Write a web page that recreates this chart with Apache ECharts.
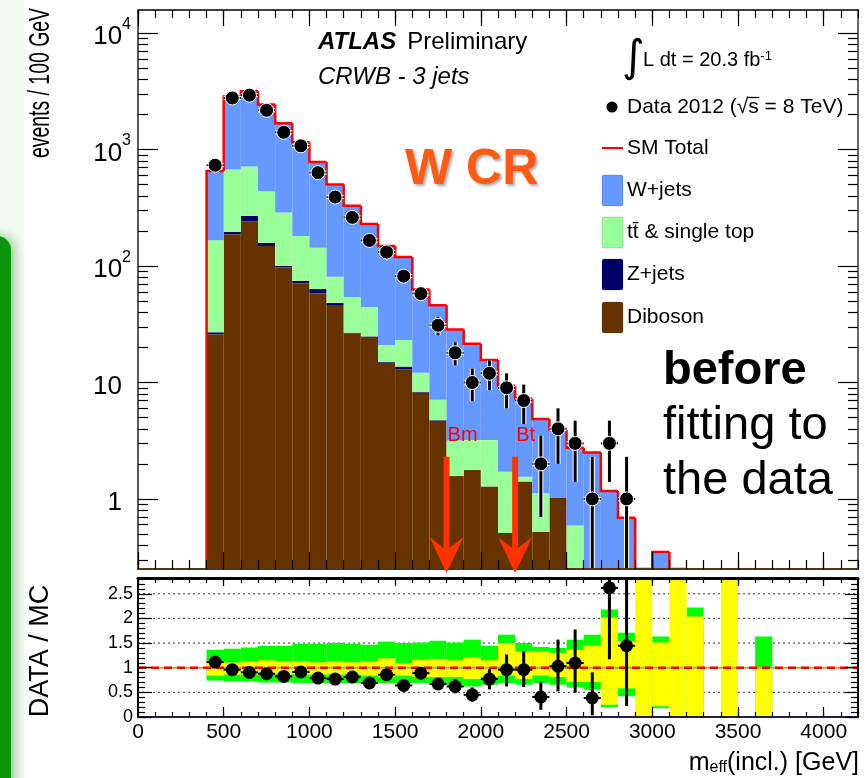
<!DOCTYPE html>
<html><head><meta charset="utf-8">
<script src="https://cdn.jsdelivr.net/npm/echarts@6/dist/echarts.min.js"></script>
<style>html,body{margin:0;padding:0;background:#fff}#c{width:868px;height:778px}</style>
</head><body><div id="c"></div>
<script>
// ---------------- data ----------------
// MC histogram bins (lower edge, GeV), width 100
const mcLow   = [400,500,600,700,800,900,1000,1100,1200,1300,1400,1500,1600,1700,1800,1900,2000,2100,2200,2300,2400,2500,2600,2700,2800,2900,3000,3100];
const diboson = [25.9,188,243,149,97.5,71,58.3,46.3,26.5,24.7,14.8,13,8.2,4.7,1.57,1.77,1.28,0.51,1.41,0.52,1.03,0.2,0,0,0,0,0,0];
const zjets   = [1.1,9,27,9.6,3.2,3.8,5.2,2.1,0.3,0.2,0.2,0.7,0.1,0.05,0,0,0,0,0,0,0,0,0,0,0,0,0,0];
const ttbar   = [140,479,447,281,188,107,80,32.6,27.1,19.6,6,9.5,3.8,2.35,1.6,1.43,1.92,1.2,0.14,0.6,0,0.39,0,0,0,0,0,0];
const wjets   = [488,2194,2463,2000,1401,978,641,422,276,185.5,128,96.8,50.9,38.9,25.3,18.3,12.4,7.69,5.75,3.73,2.87,2.16,2.5,1.17,0.69,0,0.35,0];
// Data (bin centres)
const dataX    = [450,550,650,750,850,950,1050,1150,1250,1350,1450,1550,1650,1750,1850,1950,2050,2150,2250,2350,2450,2550,2650,2750,2850];
const dataVals = [735,2780,2940,2180,1410,1079,635,392,262,166,132,82,58,31,18,10,12,9,7,2,4,3,1,3,1];
const dataUp   = [27,53,54,47,38,33,25,20,16,13,11.5,9,7.6,5.7,4.2,3.2,3.5,3,2.6,1.5,2,1.7,1.3,1.7,1.3];
const dataDn   = [27,53,54,47,38,33,25,20,16,13,11.5,9,7.6,5.5,4,3.1,3.4,3,2.6,1.3,2,1.6,1,1.6,1];
// Ratio panel
const ratioVals = [1.115,0.96,0.905,0.878,0.824,0.913,0.79,0.77,0.81,0.69,0.858,0.64,0.89,0.67,0.62,0.45,0.77,0.96,0.96,0.406,1.03,1.095,0.385,2.62,1.446];
const ratioUp   = [0.04,0.02,0.02,0.02,0.025,0.03,0.035,0.04,0.05,0.055,0.075,0.07,0.12,0.12,0.15,0.15,0.2,0.31,0.37,0.31,0.54,0.68,0.52,2.0,3.0];
const ratioDn   = [0.04,0.02,0.02,0.02,0.025,0.03,0.035,0.04,0.05,0.055,0.075,0.07,0.12,0.12,0.14,0.14,0.21,0.34,0.35,0.26,0.51,0.6,0.35,1.45,1.22];
const bandLow  = [400,500,600,700,800,900,1000,1100,1200,1300,1400,1500,1600,1700,1800,1900,2000,2100,2200,2300,2400,2500,2600,2700,2800,2900,3000,3100,3200,3300,3400,3500,3600];
const greenLo  = [0.74,0.72,0.72,0.70,0.70,0.69,0.69,0.69,0.69,0.69,0.69,0.68,0.69,0.69,0.655,0.62,0.655,0.69,0.655,0.69,0.655,0.60,0.553,0.20,0.42,null,0.18,null,0,null,null,null,0];
const greenHi  = [1.365,1.385,1.41,1.445,1.445,1.486,1.486,1.50,1.486,1.466,1.53,1.50,1.51,1.547,1.51,1.568,1.445,1.67,1.50,1.42,1.40,1.568,1.67,2.18,1.71,null,1.635,null,2.22,null,null,null,1.635];
const yellowLo = [0.84,0.86,0.86,0.86,0.865,0.86,0.86,0.86,0.865,0.84,0.81,0.84,0.81,0.81,0.81,0.77,0.81,0.84,0.77,0.84,0.81,0.71,0.71,0.25,0.58,0,0.216,0,0,null,0,null,0];
const yellowHi = [1.095,1.105,1.128,1.149,1.128,1.128,1.11,1.128,1.11,1.128,1.19,1.095,1.163,1.176,1.15,1.21,1.15,1.50,1.33,1.33,1.30,1.365,1.45,2.02,1.54,3,1.51,3,2.04,null,3,null,1.0];
// ticks
const xTicks     = [0,500,1000,1500,2000,2500,3000,3500,4000];
const logTicks   = [1,10,100,1000,10000];
const ratioTicks = [0,0.5,1,1.5,2,2.5];
const ratioGrid  = [0.5,1,1.5,2,2.5];
// annotations
const arrowX = [1800,2200], arrowLabels = ['Bm','Bt'], arrowTopVal = 2.3;

// ---------------- setup ----------------
const F = '"Liberation Sans", Arial, Helvetica, sans-serif';
const YMIN = 0.25, LOGMIN = Math.log10(YMIN), LOGMAX = 4.2, XMAX = 4200, RMAX = 2.82;
const chart = echarts.init(document.getElementById('c'));
const ylog = v => (v > 0 ? Math.log10(v) : LOGMIN - 2);
const ylogc = v => (v > YMIN ? Math.log10(v) : LOGMIN);

const xMinor = []; for (let v = 0; v <= XMAX; v += 100) xMinor.push(v);
const logMinor = []; for (let n = -1; n <= 4; n++) for (let k = 2; k <= 9; k++) { const l = Math.log10(k * Math.pow(10, n)); if (l >= LOGMIN && l <= LOGMAX) logMinor.push(l); }
const logMajor = logTicks.map(v => Math.log10(v));
const rMinor = []; for (let k = 0; k <= 28; k++) rMinor.push(+(k * 0.1).toFixed(1));

function xAx(grid, pos, ticks, len, line, label) {
  return { type: 'value', gridIndex: grid, position: pos, min: 0, max: XMAX, z: 10,
    splitLine: { show: false },
    axisLine: line ? { show: true, onZero: false, lineStyle: line } : { show: false, onZero: false },
    axisTick: { show: true, inside: true, length: len, customValues: ticks, lineStyle: { color: '#000', width: 1.2 } },
    axisLabel: label || { show: false } };
}
function yAx(grid, pos, min, max, ticks, len, line, label) {
  return { type: 'value', gridIndex: grid, position: pos, min, max, z: 10,
    splitLine: { show: false },
    axisLine: line ? { show: true, onZero: false, lineStyle: line } : { show: false, onZero: false },
    axisTick: { show: true, inside: true, length: len, customValues: ticks, lineStyle: { color: '#000', width: 1.2 } },
    axisLabel: label || { show: false } };
}

const xAxes = [
  xAx(0, 'bottom', xTicks, 17, { color: '#5a3410', width: 2 }),
  xAx(0, 'bottom', xMinor, 9),
  xAx(0, 'top', xTicks, 16, { color: '#000', width: 1.5 }),
  xAx(0, 'top', xMinor, 8),
  xAx(1, 'bottom', xTicks, 10, { color: '#20204a', width: 2 },
      { show: true, customValues: xTicks, margin: 5, fontSize: 21, fontFamily: F, color: '#000', formatter: v => String(v) }),
  xAx(1, 'bottom', xMinor, 5),
  xAx(1, 'top', xTicks, 8, { color: '#000', width: 3 }),
  xAx(1, 'top', xMinor, 5)
];
const yAxes = [
  yAx(0, 'left', LOGMIN, LOGMAX, logMajor, 20, { color: '#222', width: 1.5 }, {
    show: true, customValues: logMajor, margin: 7,
    formatter: v => { const e = Math.round(v); if (e === 0) return '{b|1}{p| }'; if (e === 1) return '{b|10}{p| }'; return '{b|10}{s|' + e + '}'; },
    rich: { b: { fontSize: 26, fontFamily: F, color: '#000', padding: [8, 0, 0, 0] },
            s: { fontSize: 16, fontFamily: F, color: '#000', verticalAlign: 'top' },
            p: { width: 9, fontSize: 10 } } }),
  yAx(0, 'left', LOGMIN, LOGMAX, logMinor, 10),
  yAx(0, 'right', LOGMIN, LOGMAX, logMajor, 20, { color: '#333', width: 1.5 }),
  yAx(0, 'right', LOGMIN, LOGMAX, logMinor, 10),
  yAx(1, 'left', 0, RMAX, ratioTicks, 14, { color: '#000', width: 2 },
      { show: true, customValues: ratioTicks, margin: 5, fontSize: 18, fontFamily: F, color: '#000' }),
  yAx(1, 'left', 0, RMAX, rMinor, 7),
  yAx(1, 'right', 0, RMAX, ratioTicks, 13, { color: '#000', width: 2 }),
  yAx(1, 'right', 0, RMAX, rMinor, 7)
];

// ---------- stacked MC (log scale, drawn as cumulative rectangles) ----------
const layers = [
  { name: 'Diboson', vals: diboson, color: '#663300' },
  { name: 'Z+jets', vals: zjets, color: '#000066' },
  { name: 'tt\u0304 & single top', vals: ttbar, color: '#99ff99' },
  { name: 'W+jets', vals: wjets, color: '#6699ff' }
];
const cum = mcLow.map(() => 0);
const series = [];
layers.forEach(L => {
  const data = mcLow.map((lo, i) => { const b = cum[i]; const t = b + L.vals[i]; cum[i] = t; return [lo, lo + 100, b, t]; });
  series.push({ type: 'custom', name: L.name, xAxisIndex: 0, yAxisIndex: 0, clip: true, z: 2, data,
    encode: { x: [0, 1], y: [2, 3] },
    renderItem: (p, api) => {
      const lo = api.value(0), hi = api.value(1), b = api.value(2), t = api.value(3);
      if (!(t > b)) return null;
      const a = api.coord([lo, ylog(t)]), c = api.coord([hi, ylog(b)]);
      return { type: 'rect', shape: { x: a[0], y: a[1], width: c[0] - a[0], height: c[1] - a[1] }, style: { fill: L.color } };
    } });
});
// SM total outline
series.push({ type: 'custom', name: 'SM Total', xAxisIndex: 0, yAxisIndex: 0, clip: true, z: 3,
  data: mcLow.map((lo, i) => [lo, lo + 100, i > 0 ? cum[i - 1] : 0, cum[i]]),
  encode: { x: [0, 1], y: [2, 3] },
  renderItem: (p, api) => {
    const lo = api.value(0), hi = api.value(1), pv = api.value(2), t = api.value(3);
    const pts = [api.coord([lo, ylogc(pv)]), api.coord([lo, ylogc(t)]), api.coord([hi, ylogc(t)])];
    return { type: 'polyline', shape: { points: pts }, style: { stroke: '#ff0000', lineWidth: 2.5, fill: null } };
  } });
// data error bars
series.push({ type: 'custom', name: 'dataErr', xAxisIndex: 0, yAxisIndex: 0, clip: true, z: 5,
  data: dataX.map((x, i) => [x, dataVals[i], dataUp[i], dataDn[i]]),
  encode: { x: 0, y: 1 },
  renderItem: (p, api) => {
    const x = api.value(0), v = api.value(1), up = api.value(2), dn = api.value(3);
    const lv = Math.log10(v);
    const pT = api.coord([x, Math.log10(v + up)]), pB = api.coord([x, v - dn > 0 ? Math.log10(v - dn) : LOGMIN - 1]);
    const pL = api.coord([x - 50, lv]), pR = api.coord([x + 50, lv]);
    return { type: 'group', children: [
      { type: 'line', shape: { x1: pT[0], y1: pT[1], x2: pB[0], y2: pB[1] }, style: { stroke: '#fff', lineWidth: 5 } },
      { type: 'line', shape: { x1: pL[0], y1: pL[1], x2: pR[0], y2: pR[1] }, style: { stroke: '#fff', lineWidth: 4 } },
      { type: 'line', shape: { x1: pT[0], y1: pT[1], x2: pB[0], y2: pB[1] }, style: { stroke: '#000', lineWidth: 3 } },
      { type: 'line', shape: { x1: pL[0], y1: pL[1], x2: pR[0], y2: pR[1] }, style: { stroke: '#000', lineWidth: 2 } }
    ] };
  } });
series.push({ type: 'scatter', name: 'Data', xAxisIndex: 0, yAxisIndex: 0, z: 6, symbol: 'circle', symbolSize: 14,
  itemStyle: { color: '#000', borderColor: '#fff', borderWidth: 1, opacity: 1 },
  data: dataX.map((x, i) => [x, Math.log10(dataVals[i])]) });

// ---------- ratio panel ----------
series.push({ type: 'custom', name: 'grid', xAxisIndex: 4, yAxisIndex: 4, clip: true, z: 1,
  data: ratioGrid.map(v => [v]), encode: { y: 0 },
  renderItem: (p, api) => { const v = api.value(0); const a = api.coord([0, v]), b = api.coord([XMAX, v]);
    return { type: 'line', shape: { x1: a[0], y1: a[1], x2: b[0], y2: b[1] }, style: { stroke: '#333', lineWidth: 1, lineDash: [2, 3] } }; } });
function bandSeries(lo, hi, color, z) {
  const data = []; bandLow.forEach((b, i) => { if (lo[i] !== null && hi[i] !== null) data.push([b, b + 100, lo[i], hi[i]]); });
  return { type: 'custom', xAxisIndex: 4, yAxisIndex: 4, clip: true, z, data, encode: { x: [0, 1], y: [2, 3] },
    renderItem: (p, api) => { const a = api.coord([api.value(0), api.value(3)]), c = api.coord([api.value(1), api.value(2)]);
      return { type: 'rect', shape: { x: a[0], y: a[1], width: c[0] - a[0], height: c[1] - a[1] }, style: { fill: color } }; } };
}
series.push(bandSeries(greenLo, greenHi, '#00ff00', 2));
series.push(bandSeries(yellowLo, yellowHi, '#ffff00', 3));
series.push({ type: 'custom', name: 'unity', xAxisIndex: 4, yAxisIndex: 4, clip: true, z: 4,
  data: [[1]], encode: { y: 0 },
  renderItem: (p, api) => { const v = api.value(0); const a = api.coord([0, v]), b = api.coord([XMAX, v]);
    return { type: 'group', children: [
      { type: 'line', shape: { x1: a[0], y1: a[1], x2: b[0], y2: b[1] }, style: { stroke: '#b0b040', lineWidth: 2 } },
      { type: 'line', shape: { x1: a[0], y1: a[1], x2: b[0], y2: b[1] }, style: { stroke: '#ff0000', lineWidth: 2.5, lineDash: [8, 5] } } ] }; } });
series.push({ type: 'custom', name: 'ratioErr', xAxisIndex: 4, yAxisIndex: 4, clip: true, z: 5,
  data: dataX.map((x, i) => [x, ratioVals[i], ratioUp[i], ratioDn[i]]), encode: { x: 0, y: 1 },
  renderItem: (p, api) => {
    const x = api.value(0), v = api.value(1), up = api.value(2), dn = api.value(3);
    const pT = api.coord([x, v + up]), pB = api.coord([x, v - dn]), pL = api.coord([x - 50, v]), pR = api.coord([x + 50, v]);
    return { type: 'group', children: [
      { type: 'line', shape: { x1: pT[0], y1: pT[1], x2: pB[0], y2: pB[1] }, style: { stroke: '#000', lineWidth: 3 } },
      { type: 'line', shape: { x1: pL[0], y1: pL[1], x2: pR[0], y2: pR[1] }, style: { stroke: '#000', lineWidth: 2 } } ] };
  } });
series.push({ type: 'scatter', name: 'Ratio', xAxisIndex: 4, yAxisIndex: 4, z: 6, symbol: 'circle', symbolSize: 13,
  itemStyle: { color: '#000', opacity: 1 }, data: dataX.map((x, i) => [x, ratioVals[i]]) });

chart.setOption({
  animation: false,
  backgroundColor: '#fff',
  grid: [
    { left: 138, right: 10, top: 10, height: 559, show: false },
    { left: 138, right: 10, top: 578, height: 139, show: false }
  ],
  xAxis: xAxes, yAxis: yAxes, series
});

// ---------------- annotations ----------------
function tw(str, font) { const c = document.createElement('canvas').getContext('2d'); c.font = font; return c.measureText(str).width; }
const g = [];
// slide decoration
g.push({ type: 'rect', shape: { x: 0, y: 0, width: 24, height: 778 }, style: { fill: 'rgba(0,150,0,0.05)' }, z: 0 });
g.push({ type: 'rect', shape: { x: -24, y: 236, width: 35, height: 620, r: 14 }, style: { fill: '#0c940c', shadowBlur: 12, shadowColor: 'rgba(0,130,0,0.45)', shadowOffsetX: 3 }, z: 0 });
function T(text, x, y, font, opts) {
  return Object.assign({ type: 'text', x, y, z: 20, style: Object.assign({ text, font, fill: '#000', align: 'left', verticalAlign: 'middle', textAlign: 'left', textVerticalAlign: 'middle' }, opts || {}) });
}
g.push({ type: 'text', x: 318, y: 42, z: 20, style: { text: '{a|ATLAS}{b|Preliminary}', align: 'left', verticalAlign: 'middle', rich: {
  a: { fontSize: 24, fontWeight: 'bold', fontStyle: 'italic', fontFamily: F, fill: '#000', padding: [0, 11, 0, 0] },
  b: { fontSize: 24, fontFamily: F, fill: '#000' } } } });
g.push(T('CRWB - 3 jets', 318, 77, 'italic 24px ' + F));
g.push(T('\u222B', 622, 60, '44px "DejaVu Sans"'));
g.push({ type: 'text', x: 643, y: 60, z: 20, style: { text: '{a|L dt = 20.3 fb}{s|-1}', align: 'left', verticalAlign: 'middle', rich: {
  a: { fontSize: 20, fontFamily: F, fill: '#000' }, s: { fontSize: 13, fontFamily: F, fill: '#000', verticalAlign: 'top' } } } });
g.push({ type: 'circle', shape: { cx: 612, cy: 107, r: 5.5 }, style: { fill: '#000' }, z: 20 });
const dFont = '21px ' + F;
g.push(T('Data 2012 (\u221As = 8 TeV)', 627, 107, dFont));
{ // overline of sqrt(s)
  const sx = 627 + tw('Data 2012 (\u221A', dFont), sw = tw('s', dFont);
  g.push({ type: 'line', shape: { x1: sx - 1, y1: 97.5, x2: sx + sw + 0.5, y2: 97.5 }, style: { stroke: '#000', lineWidth: 1.3 }, z: 20 });
}
g.push({ type: 'line', shape: { x1: 602, y1: 148, x2: 623, y2: 148 }, style: { stroke: '#ff0000', lineWidth: 2 }, z: 20 });
g.push(T('SM Total', 627, 148, '21px ' + F));
const legendBoxes = [['W+jets', '#6699ff', 190.5], ['tt\u0304 & single top', '#99ff99', 232.5], ['Z+jets', '#000066', 274.5], ['Diboson', '#663300', 317.5]];
legendBoxes.forEach(([name, col, cy]) => {
  g.push({ type: 'rect', shape: { x: 602, y: cy - 15.5, width: 21, height: 31, r: 2 }, style: { fill: col, stroke: 'rgba(0,0,0,0.15)', lineWidth: 1 }, z: 20 });
  g.push(T(name, 627, cy, '21px ' + F));
});
g.push(T('W CR', 405, 170, 'bold 50px ' + F, { fill: '#ff5a14', textShadowColor: 'rgba(0,0,0,0.35)', textShadowBlur: 3, textShadowOffsetX: 2, textShadowOffsetY: 2 }));
g.push(T('before', 663, 371, 'bold 47px ' + F));
g.push(T('fitting to', 663, 426, '47px ' + F));
g.push(T('the data', 663, 481, '47px ' + F));
// axis titles
const tf = '30px ' + F;
g.push({ type: 'text', x: 41, y: 83, rotation: Math.PI / 2, scaleX: 150 / tw('events / 100 GeV', tf), z: 20,
  style: { text: 'events / 100 GeV', font: tf, fill: '#000', align: 'center', verticalAlign: 'middle' } });
g.push({ type: 'text', x: 41, y: 651, rotation: Math.PI / 2, z: 20,
  style: { text: 'DATA / MC', font: '27px ' + F, fill: '#000', align: 'center', verticalAlign: 'middle' } });
g.push({ type: 'text', x: 859, y: 763, z: 20, style: { text: '{a|m}{b|eff}{a|(incl.) [GeV]}', align: 'right', verticalAlign: 'middle', rich: {
  a: { fontSize: 25, lineHeight: 25, fontFamily: F, fill: '#000', verticalAlign: 'top' },
  b: { fontSize: 16, lineHeight: 16, fontFamily: F, fill: '#000', verticalAlign: 'bottom', padding: [16, 0, 0, 0] } } } });
// arrows
const floorPx = chart.convertToPixel({ xAxisIndex: 0, yAxisIndex: 0 }, [0, LOGMIN])[1];
arrowX.forEach((ax, i) => {
  const top = chart.convertToPixel({ xAxisIndex: 0, yAxisIndex: 0 }, [ax, Math.log10(arrowTopVal)]);
  const x = top[0], y0 = top[1], tip = floorPx + 4;
  g.push({ type: 'polygon', z: 15, shape: { points: [[x - 3, y0], [x + 3, y0], [x + 3, tip - 25], [x + 17, tip - 36], [x, tip], [x - 17, tip - 36], [x - 3, tip - 25]] }, style: { fill: '#ff3300' } });
  g.push(T(arrowLabels[i], x + 1, y0 - 21, '20px ' + F, { fill: '#ff0000' }));
});
chart.setOption({ graphic: { elements: g } });
</script></body></html>
